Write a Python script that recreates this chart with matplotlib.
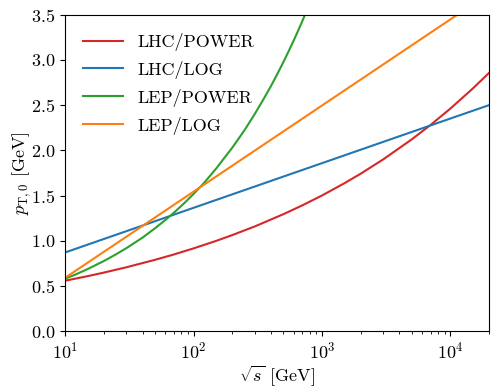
import matplotlib
matplotlib.use("Agg")
import matplotlib.pyplot as plt

plt.rcParams["font.family"] = "serif"
plt.rcParams["font.serif"] = ["cmr10", "DejaVu Serif"]
plt.rcParams["mathtext.fontset"] = "cm"
plt.rcParams["axes.formatter.use_mathtext"] = True
plt.rcParams["axes.unicode_minus"] = False

# values (sqrt(s) in GeV, pT0 in GeV)
lhc_power_x = [10, 15, 20, 30, 50, 70, 100, 150, 200, 300, 500, 700, 1000,
               1500, 2000, 3000, 5000, 7000, 10000, 15000, 20000]
lhc_power_y = [0.557, 0.608, 0.647, 0.706, 0.788, 0.847, 0.915, 0.998, 1.062,
               1.158, 1.293, 1.390, 1.500, 1.637, 1.741, 1.900, 2.121, 2.280,
               2.462, 2.686, 2.857]

lhc_log_x = [10, 100, 1000, 10000, 20000]
lhc_log_y = [0.87, 1.364, 1.858, 2.352, 2.50]

lep_power_x = [10, 12, 15, 20, 25, 30, 40, 50, 60, 70, 85, 100, 120, 150, 175,
               200, 250, 300, 350, 400, 450, 500, 550, 600, 650, 700, 750, 800]
lep_power_y = [0.58, 0.625, 0.687, 0.775, 0.851, 0.918, 1.034, 1.137, 1.227,
               1.308, 1.418, 1.518, 1.636, 1.799, 1.923, 2.029, 2.226, 2.404,
               2.565, 2.710, 2.848, 2.976, 3.097, 3.211, 3.320, 3.425, 3.526,
               3.622]

lep_log_x = [10, 100, 1000, 10000, 20000]
lep_log_y = [0.59, 1.543, 2.496, 3.449, 3.736]

fig, ax = plt.subplots(figsize=(4.98, 3.89), dpi=100)
ax.plot(lhc_power_x, lhc_power_y, color="#d62728", lw=1.5, label="LHC/POWER")
ax.plot(lhc_log_x, lhc_log_y, color="#1f77b4", lw=1.5, label="LHC/LOG")
ax.plot(lep_power_x, lep_power_y, color="#2ca02c", lw=1.5, label="LEP/POWER")
ax.plot(lep_log_x, lep_log_y, color="#ff7f0e", lw=1.5, label="LEP/LOG")

ax.set_xscale("log")
ax.set_xlim(10, 20000)
ax.set_ylim(0, 3.5)
ax.set_yticks([0.0, 0.5, 1.0, 1.5, 2.0, 2.5, 3.0, 3.5])
ax.tick_params(labelsize=13)
ax.set_xlabel(r"$\sqrt{s}$ [GeV]", fontsize=13, labelpad=1)
ax.set_ylabel(r"$p_{\mathrm{T},0}$ [GeV]", fontsize=13, labelpad=-1)
ax.legend(loc="upper left", frameon=False, fontsize=13, handlelength=2.2,
          borderaxespad=0.6, labelspacing=0.55)

fig.subplots_adjust(left=0.131, right=0.982, top=0.962, bottom=0.149)
fig.savefig("out.png", dpi=100)
